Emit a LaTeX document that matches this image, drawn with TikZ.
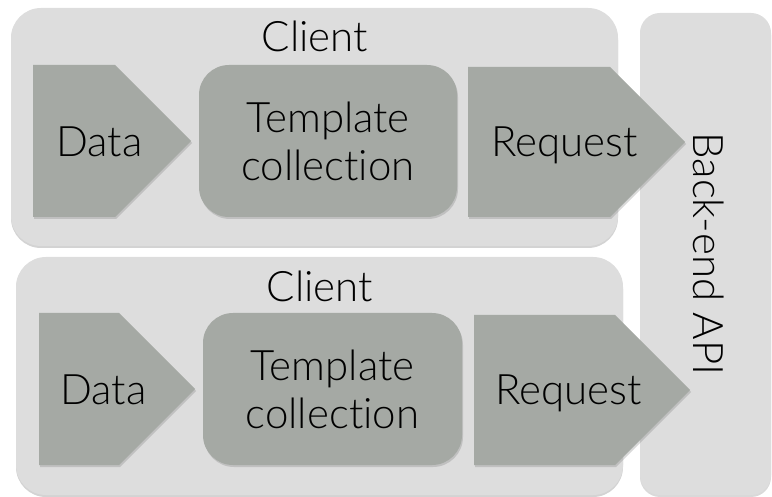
\documentclass[tikz,border=0pt]{standalone}
\usepackage{fontspec}
\setmainfont{Lato Light}[Ligatures={NoCommon,NoRare}]
\usepackage{tikz}
\usetikzlibrary{positioning}
\usetikzlibrary{shapes.symbols,shadows}
\definecolor{boxgray}{RGB}{221,221,221}
\definecolor{partgray}{RGB}{165,169,164}

\begin{document}
\begin{tikzpicture}[x=1pt, y=-1pt, font=\fontsize{42}{48}\selectfont]
\tikzstyle{client}=[fill=boxgray, rounded corners=30pt, minimum width=607pt, minimum height=238pt, drop shadow={shadow xshift=0pt, shadow yshift=-2pt, opacity=0.35}]
\tikzstyle{backend}=[fill=boxgray, rounded corners=20pt, minimum width=131pt, minimum height=482pt, drop shadow={shadow xshift=0pt, shadow yshift=-2pt, opacity=0.3}]
\tikzstyle{arrowpart}=[signal, signal to=east, signal pointer angle=90, fill=partgray, inner sep=0pt, minimum height=152pt, drop shadow={shadow xshift=1pt, shadow yshift=-2pt, opacity=0.3}]
\tikzstyle{template}=[fill=partgray, rounded corners=30pt, minimum width=258pt, minimum height=152pt, inner sep=0pt, align=center, drop shadow={shadow xshift=1pt, shadow yshift=-2pt, opacity=0.3}]
\tikzstyle{txt}=[inner sep=0pt, text=black]
\useasboundingbox (0,0) rectangle (772,497);

% back end
\node[backend] (api) at (705.5,254) {};
\node[txt, rotate=-90, anchor=base] (apitext) at (693,254) {Back-end API};

% first client
\node[client] (client1) at (314.5,127) {};
\node[txt, anchor=base] (client1text) at (315,52) {Client};
\node[arrowpart, minimum width=158pt, anchor=west] (data1) at (33,141) {};
\node[template] (tmpl1) at (328,141) {Template\\collection};
\node[arrowpart, minimum width=217pt, minimum height=150pt, anchor=west] (req1) at (468,142) {};
\node[txt, anchor=base] (data1text) at (99.5,157) {Data};
\node[txt, anchor=base] (req1text) at (564.5,157) {Request};

% second client
\node[client] (client2) at (319.5,376) {};
\node[txt, anchor=base] (client2text) at (320,302) {Client};
\node[arrowpart, minimum width=156pt, anchor=west] (data2) at (39,389) {};
\node[template, minimum width=259pt] (tmpl2) at (332.5,389) {Template\\collection};
\node[arrowpart, minimum width=216pt, minimum height=150pt, anchor=west] (req2) at (474,390) {};
\node[txt, anchor=base] (data2text) at (103.5,405) {Data};
\node[txt, anchor=base] (req2text) at (568.5,405) {Request};
\end{tikzpicture}
\end{document}
